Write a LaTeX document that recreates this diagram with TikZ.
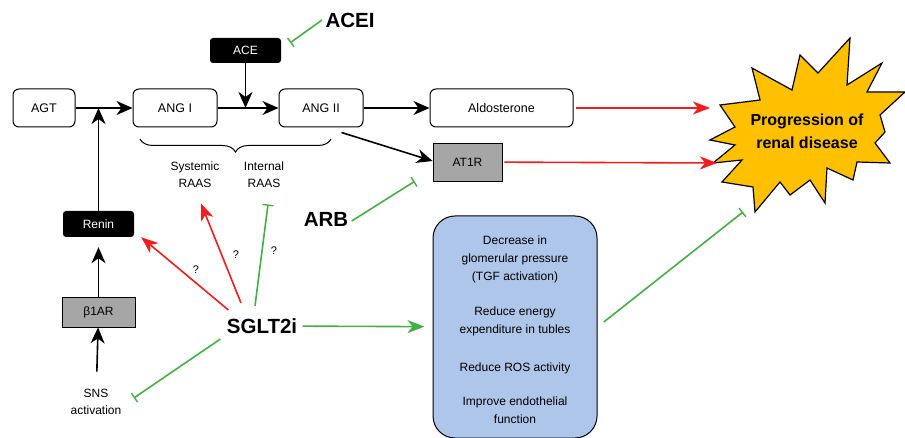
\documentclass[tikz,border=0pt]{standalone}
\usepackage{fontspec}
\setmainfont{Liberation Sans}
\usetikzlibrary{arrows.meta}
\usetikzlibrary{decorations.pathreplacing}
\usetikzlibrary{positioning}
\definecolor{actred}{HTML}{F01E1E}
\definecolor{inhgreen}{HTML}{45AE45}
\definecolor{boxgray}{HTML}{A6A6A6}
\definecolor{boxblue}{HTML}{AEC6E9}
\definecolor{stargold}{HTML}{FFC000}

\begin{document}
\begin{tikzpicture}[x=1pt,y=-1pt,
  rbox/.style={draw,line width=1pt,rounded corners=6pt,minimum height=38pt,font=\fontsize{12.5}{15}\selectfont},
  blk/.style={fill=black,text=white,rounded corners=3pt,minimum width=71pt,font=\fontsize{12}{14}\selectfont},
  gry/.style={draw,line width=0.8pt,fill=boxgray,font=\fontsize{12}{14}\selectfont},
  lab/.style={align=center,font=\fontsize{12}{17}\selectfont},
  drug/.style={font=\bfseries\fontsize{20.5}{24}\selectfont},
  act/.style={line width=1.6pt,-{Stealth[length=16pt,width=14pt,inset=5pt]}},
  pro/.style={actred,line width=1.6pt,-{Stealth[length=17pt,width=13pt,inset=5pt]}},
  grn/.style={inhgreen,line width=1.6pt,-{Stealth[length=17pt,width=13pt,inset=5pt]}},
  inh/.style={inhgreen,line width=1.6pt,-{Bar[width=11pt,line width=1.4pt]}}]
  \useasboundingbox (0,0) rectangle (905,438);

  % RAAS cascade
  \node[rbox,minimum width=62pt] (agt) at (44,108) {AGT};
  \node[rbox,minimum width=84pt] (ang1) at (175,108) {ANG I};
  \node[rbox,minimum width=84pt] (ang2) at (321,108) {ANG II};
  \node[rbox,minimum width=143pt] (aldo) at (501.5,108) {Aldosterone};
  \node[blk,minimum height=25pt] (ace) at (245.5,50.5) {ACE};
  \node[gry,minimum width=69pt,minimum height=38pt] (at1r) at (467.5,162) {AT1R};
  \node[blk,minimum height=26pt] (renin) at (98.5,224) {Renin};
  \node[gry,minimum width=73pt,minimum height=30pt] (b1ar) at (98.5,312) {β1AR};
  \node[lab] (sns) at (96,402) {SNS\\activation};
  \node[lab] (sys) at (195,175) {Systemic\\RAAS};
  \node[lab] (int) at (264,175) {Internal\\RAAS};

  % drugs
  \node[drug] (acei) at (350,20) {ACEI};
  \node[drug] (arb) at (326,219) {ARB};
  \node[drug] (sglt) at (262,326) {SGLT2i};

  \node[draw,line width=1pt,fill=boxblue,rounded corners=22pt,minimum width=164pt,minimum height=222pt,
        align=center,font=\fontsize{12}{18}\selectfont] (eff) at (515,327)
    {\mbox{}\\[-4pt]Decrease in\\glomerular pressure\\(TGF activation)\\[17pt]
     Reduce energy\\expenditure in tubles\\[20pt]
     Reduce ROS activity\\[16pt]
     Improve endothelial\\function};

  % star
  \draw[line width=1.2pt,fill=stargold,line join=miter]
    (850,38) -- (847,85) -- (882,63) -- (867,92) -- (905,92) -- (880,115) -- (885,132)
    -- (875,143) -- (890,163) -- (857,162) -- (853,180) -- (827,168) -- (825,203)
    -- (810,180) -- (790,195) -- (780,182) -- (755,212) -- (753,187) -- (722,182)
    -- (742,160) -- (713,163) -- (735,145) -- (710,140) -- (735,127) -- (720,105)
    -- (760,100) -- (752,68) -- (792,90) -- (800,55) -- (818,73) -- cycle;
  \node[align=center,font=\bfseries\fontsize{16}{23}\selectfont] (prog) at (807,131)
    {Progression of\\renal disease};
  \coordinate (starA) at (710,108);
  \coordinate (starB) at (717,163);
  \coordinate (starC) at (743,212);

  \coordinate (j1) at (98.5,108);
  \coordinate (j2) at (245.5,108);

  \draw[act] (agt) -- (ang1);
  \draw[act] (ang1) -- (ang2);
  \draw[act] (ang2) -- (aldo);
  \draw[act] (renin) -- (j1);
  \draw[act] (ace) -- (j2);
  \draw[act] ([xshift=-22pt,yshift=-5pt]ang2.south east) -- ([yshift=1pt]at1r.west);
  \draw[act,shorten >=10pt] (b1ar) -- (renin);
  \draw[act,shorten <=14pt] (sns) -- (b1ar);
  \draw[decorate,decoration={brace,mirror,amplitude=13pt},line width=1pt]
    (140,139) -- (331,139);

  \draw[pro,shorten <=2pt] (aldo) -- (starA);
  \draw[pro,shorten <=2pt] (at1r) -- (starB);
  \draw[inh] (acei.west) -- ([xshift=9pt,yshift=-5pt]ace.north east);
  \draw[inh] ([yshift=-2pt]arb.east) -- ([xshift=-18pt]at1r.south west);

  \draw[pro] ([xshift=5pt,yshift=5pt]sglt.north west) -- ([xshift=7pt]renin.south east);
  \draw[pro] ([xshift=-21pt,yshift=12pt]sglt.north) -- ([xshift=6pt,yshift=-12pt]sys.south);
  \draw[inh] ([xshift=-7pt,yshift=9pt]sglt.north) -- ([xshift=4pt,yshift=-13pt]int.south);
  \draw[grn,shorten <=2pt,shorten >=8pt] (sglt) -- (eff);
  \draw[inh] ([xshift=-3pt,yshift=-2pt]sglt.south west) -- ([xshift=9pt,yshift=4pt]sns.east);
  \draw[inh,shorten <=8pt] (eff.east) -- (starC);

  \foreach \x/\y [count=\i] in {196/270,236/255,274/251}
    \node[font=\fontsize{11}{13}\selectfont] (q\i) at (\x,\y) {?};
\end{tikzpicture}
\end{document}
